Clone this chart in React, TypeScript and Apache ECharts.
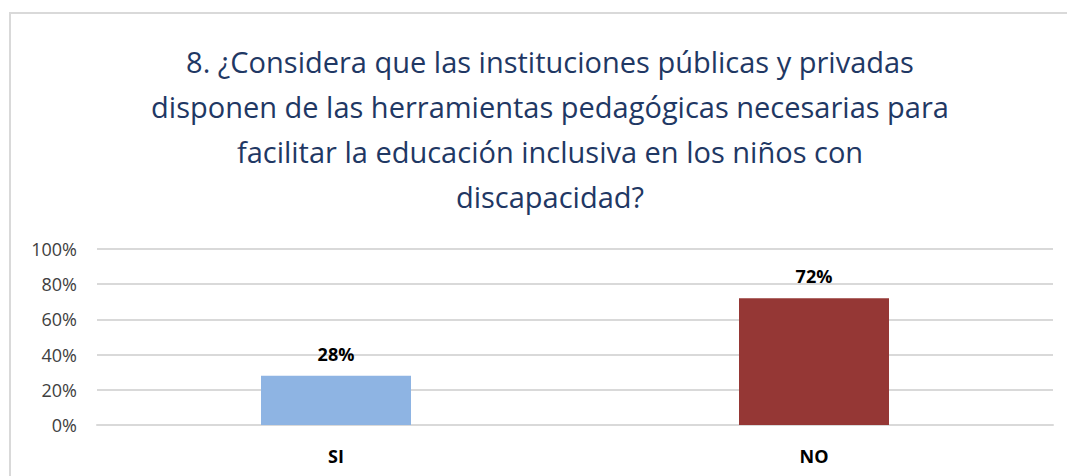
import React, { useEffect, useRef } from "react";
import * as echarts from "echarts";

const categories = ["SI", "NO"];
const values = [28, 72];
const barColors = ["#8EB4E3", "#953735"];
const titleLines = [
  "8. ¿Considera que las instituciones públicas y privadas",
  "disponen de las herramientas pedagógicas necesarias para",
  "facilitar la educación inclusiva en los niños con",
  "discapacidad?",
];

export default function App() {
  const ref = useRef<HTMLDivElement>(null);
  useEffect(() => {
    const chart = echarts.init(ref.current!, null, { renderer: "svg" });
    chart.setOption({
      animation: false,
      backgroundColor: "#ffffff",
      title: {
        text: titleLines.join("\n"),
        left: 545,
        top: 34,
        textAlign: "center",
        textStyle: {
          fontFamily: "Open Sans",
          fontSize: 29,
          fontWeight: "normal",
          color: "#1F3864",
          lineHeight: 45,
        },
      },
      graphic: [
        {
          type: "rect",
          shape: { x: 10, y: 13, width: 1100, height: 500 },
          style: { fill: "none", stroke: "#d9d9d9", lineWidth: 2 },
          silent: true,
        },
      ],
      grid: { left: 97, right: 14, top: 249, bottom: 51 },
      xAxis: {
        type: "category",
        data: categories,
        axisLine: { show: true, lineStyle: { color: "#d9d9d9", width: 2 } },
        axisTick: { show: false },
        axisLabel: {
          margin: 22,
          fontFamily: "Open Sans",
          fontSize: 18,
          fontWeight: "bold",
          color: "#000000",
        },
      },
      yAxis: {
        type: "value",
        min: 0,
        max: 100,
        interval: 20,
        axisLine: { show: false },
        axisTick: { show: false },
        splitLine: { lineStyle: { color: "#d9d9d9", width: 2 } },
        axisLabel: {
          formatter: "{value}%",
          margin: 20,
          fontFamily: "Open Sans",
          fontSize: 18,
          color: "#404040",
        },
      },
      series: [
        {
          type: "bar",
          barWidth: 150,
          data: values.map((v, i) => ({ value: v, itemStyle: { color: barColors[i] } })),
          label: {
            show: true,
            position: "top",
            distance: 13,
            formatter: "{c}%",
            fontFamily: "Open Sans",
            fontSize: 18,
            fontWeight: "bold",
            color: "#000000",
          },
        },
      ],
    });
    return () => chart.dispose();
  }, []);
  return (
    <div
      ref={ref}
      style={{ position: "absolute", left: 0, top: 0, width: 1067, height: 476 }}
    />
  );
}
